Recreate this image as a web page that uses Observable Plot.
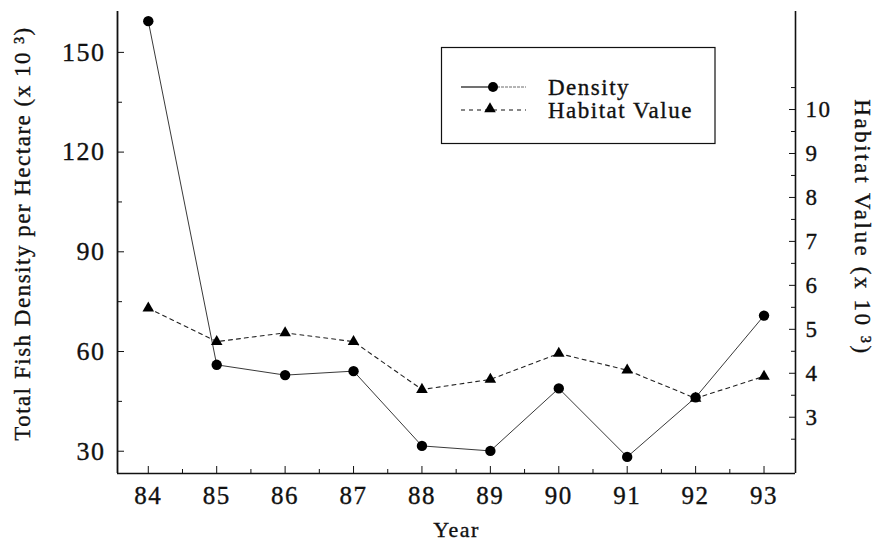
<!DOCTYPE html>
<html><head><meta charset="utf-8">
<script src="https://cdn.jsdelivr.net/npm/d3@7"></script>
<script src="https://cdn.jsdelivr.net/npm/@observablehq/plot@0.6"></script>
<style>
html,body{margin:0;padding:0;background:#fff;}
#wrap{position:relative;width:883px;height:544px;}
#wrap svg text{letter-spacing:1.5px;stroke:#111;stroke-width:0.35px;}
#legend{position:absolute;left:0;top:0;pointer-events:none;}
</style></head><body><div id="wrap"></div>
<script>
// ---- data ----
const years = [84, 85, 86, 87, 88, 89, 90, 91, 92, 93];
const density = [159.4, 56.0, 52.9, 54.1, 31.6, 30.1, 48.9, 28.3, 46.2, 70.8];
const habitat = [5.48, 4.72, 4.92, 4.72, 3.63, 3.86, 4.45, 4.07, 3.43, 3.93];
const leftTicks = [30, 60, 90, 120, 150];
const leftMinor = [45, 75, 105, 135];
const rightTicks = [3, 4, 5, 6, 7, 8, 9, 10];
const rightMinor = [2.5, 3.5, 4.5, 5.5, 6.5, 7.5, 8.5, 9.5, 10.5];
const xMinor = [84.5, 85.5, 86.5, 87.5, 88.5, 89.5, 90.5, 91.5, 92.5];
const xDomain = [83.55, 93.46];
const yDomain = [23.3, 162.3];
const rightDomain = [1.72, 12.23];
const legendLabels = ["Density", "Habitat Value"];
const xTitle = "Year";
const yTitle = "Total Fish Density per Hectare (x 10 \u00B3)";
const y2Title = "Habitat Value (x 10 \u00B3)";

const rows = years.map((y, i) => ({year: y, density: density[i], habitat: habitat[i]}));
const toLeft = d3.scaleLinear(rightDomain, yDomain);
const ink = "#111";
const font = "'Liberation Serif', 'Times New Roman', serif";

const plot = Plot.plot({
  width: 883, height: 544,
  marginLeft: 117, marginRight: 88, marginTop: 11, marginBottom: 71,
  x: {domain: xDomain},
  y: {domain: yDomain},
  style: {fontFamily: font, fontSize: "23px", color: ink, background: "#fff"},
  marks: [
    Plot.ruleX([xDomain[0]], {stroke: ink, strokeWidth: 1.8}),
    Plot.ruleX([xDomain[1]], {stroke: ink, strokeWidth: 1.6}),
    Plot.ruleY([yDomain[0]], {stroke: ink, strokeWidth: 1.6}),
    Plot.axisY(leftTicks, {anchor: "left", tickSize: -7, tickPadding: 19, fontSize: 26, label: null, stroke: ink}),
    Plot.axisY(leftMinor, {anchor: "left", tickSize: -5, text: null, label: null, stroke: ink}),
    Plot.axisY(rightTicks.map(toLeft), {anchor: "right", tickSize: -7, tickPadding: 17, fontSize: 23, label: null, stroke: ink,
      tickFormat: d => String(Math.round(toLeft.invert(d)))}),
    Plot.axisY(rightMinor.map(toLeft), {anchor: "right", tickSize: -5, text: null, label: null, stroke: ink}),
    Plot.axisX(years, {anchor: "bottom", tickSize: -7, tickPadding: 20, fontSize: 25, label: null, stroke: ink}),
    Plot.axisX(xMinor, {anchor: "bottom", tickSize: -4, text: null, label: null, stroke: ink}),
    Plot.line(rows, {x: "year", y: "density", stroke: "#222", strokeWidth: 0.9}),
    Plot.line(rows, {x: "year", y: d => toLeft(d.habitat), stroke: "#222", strokeWidth: 1.1, strokeDasharray: "4,4"}),
    Plot.dot(rows, {x: "year", y: "density", r: 5.2, fill: "#000", stroke: null}),
    Plot.dot(rows, {x: "year", y: d => toLeft(d.habitat), symbol: "triangle", r: 4.3, fill: "#000", stroke: null}),
    Plot.text([xTitle], {text: d => d, frameAnchor: "bottom", dy: 56, fontSize: 22, fill: ink, textAnchor: "middle", lineAnchor: "middle"}),
    Plot.text([yTitle], {text: d => d, frameAnchor: "left", dx: -95, dy: -9, rotate: -90, fontSize: 23, fill: ink, textAnchor: "middle", lineAnchor: "middle"}),
    Plot.text([y2Title], {text: d => d, frameAnchor: "right", dx: 67, dy: -15, rotate: 90, fontSize: 23, fill: ink, textAnchor: "middle", lineAnchor: "middle"})
  ]
});
const wrap = document.getElementById("wrap");
wrap.appendChild(plot);
d3.select(plot).selectAll("text").filter(function () { return this.textContent === y2Title; })
  .style("letter-spacing", "2.6px");

// ---- legend overlay ----
const leg = d3.select(wrap).append("svg").attr("id", "legend")
  .attr("width", 883).attr("height", 544)
  .style("font-family", font);
leg.append("rect").attr("x", 441.5).attr("y", 47.5).attr("width", 273.5).attr("height", 96)
  .attr("fill", "none").attr("stroke", ink).attr("stroke-width", 1.2);
// density sample
leg.append("line").attr("x1", 461).attr("x2", 493).attr("y1", 87).attr("y2", 87).attr("stroke", ink).attr("stroke-width", 1.2);
leg.append("line").attr("x1", 493).attr("x2", 526).attr("y1", 87).attr("y2", 87).attr("stroke", "#444").attr("stroke-width", 0.8).attr("stroke-dasharray", "3,1");
leg.append("circle").attr("cx", 493).attr("cy", 87).attr("r", 5).attr("fill", "#000");
// habitat sample
leg.append("line").attr("x1", 461).attr("x2", 526).attr("y1", 110).attr("y2", 110).attr("stroke", ink).attr("stroke-width", 1).attr("stroke-dasharray", "4,4");
leg.append("path").attr("d", d3.symbol(d3.symbolTriangle, 58)()).attr("transform", "translate(490,109)").attr("fill", "#000");
leg.selectAll("text.lab").data(legendLabels).join("text").attr("class", "lab")
  .attr("x", 548).attr("y", (d, i) => 95 + i * 23)
  .attr("font-size", 23).attr("fill", ink).attr("stroke", ink).attr("stroke-width", 0.35)
  .style("letter-spacing", "1.5px")
  .text(d => d);
</script></body></html>
